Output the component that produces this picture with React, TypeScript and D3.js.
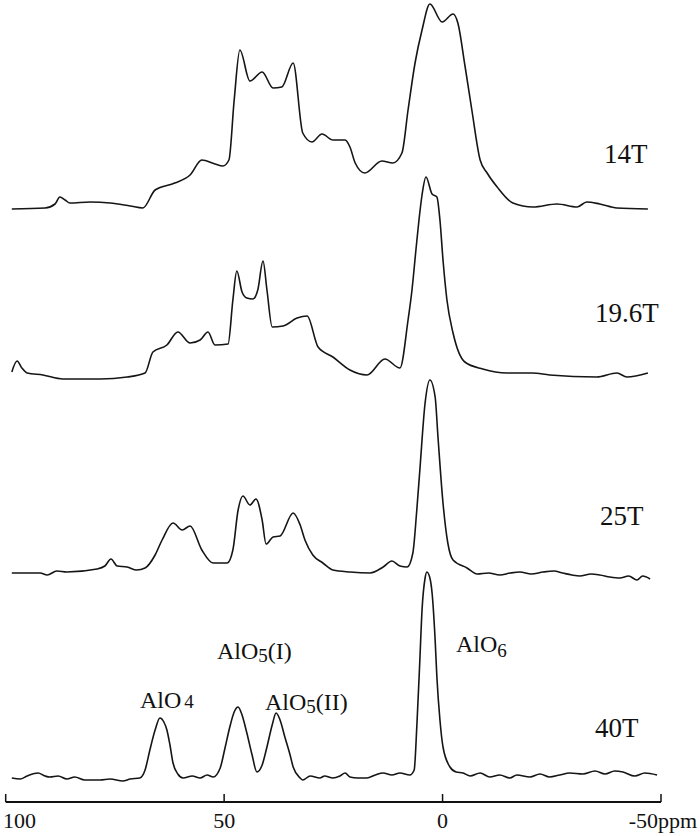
import React from "react";
import * as d3 from "d3";

// ---- data (ppm positions and intensities, arbitrary units) ----
const traceLabels = ["14T", "19.6T", "25T", "40T"];
const traceOffsets = [594, 427, 230, 24];

const ppm14 = [98.6, 91.0, 88.7, 87.6, 86.4, 85.3, 80.7, 76.1, 71.5, 68.6, 65.8, 61.3, 57.8, 55.1, 52.1, 50.3, 48.9, 47.7, 46.4, 44.1, 41.3, 38.8, 36.8, 34.2, 32.0, 29.9, 27.6, 25.1, 22.3, 21.2, 20.0, 17.8, 13.9, 11.4, 9.3, 7.9, 6.3, 4.7, 2.9, 0.1, -2.4, -3.5, -5.1, -6.7, -8.6, -10.2, -12.5, -16.1, -20.7, -26.2, -30.8, -33.0, -36.0, -39.9, -47.0];
const int14 = [-1, 0, 4, 11, 8, 5, 6, 5, 2, 0, 18, 25, 33, 48, 44, 42, 48, 108, 158, 127, 136, 120, 121, 145, 75, 66, 74, 68, 68, 61, 45, 35, 47, 45, 55, 98, 145, 178, 204, 186, 194, 185, 143, 98, 48, 35, 21, 5, 1, 4, 1, 6, 4, 0, -1];

const ppm196 = [98.6, 97.4, 96.3, 95.1, 91.5, 86.9, 78.4, 72.2, 68.1, 66.3, 63.1, 60.6, 57.8, 55.5, 53.7, 52.1, 49.1, 48.0, 47.1, 45.9, 44.8, 43.4, 42.3, 41.1, 40.2, 39.0, 36.5, 33.3, 31.0, 28.5, 25.1, 21.2, 17.3, 13.2, 9.75, 7.9, 7.0, 6.1, 5.4, 4.7, 3.8, 2.4, 1.3, 0.6, -0.1, -1.0, -2.4, -5.1, -9.2, -14.7, -20.5, -24.5, -35.3, -39.9, -42.2, -47.0];
const int196 = [3, 14, 7, 2, 0, -4, -4, -2, 2, 23, 30, 43, 32, 35, 43, 30, 31, 75, 104, 83, 77, 76, 85, 114, 85, 48, 49, 57, 59, 28, 18, 5, 0, 16, 7, 55, 85, 125, 155, 180, 198, 181, 178, 155, 115, 75, 42, 13, 6, 2, 2, 0, -2, 2, -2, 2];

const ppm25 = [98.6, 92.1, 90.5, 88.3, 86.0, 79.1, 77.3, 75.9, 74.5, 72.2, 70.0, 68.1, 65.8, 64.2, 61.7, 59.6, 57.8, 55.1, 52.5, 49.3, 48.0, 46.8, 45.7, 44.1, 42.7, 41.3, 40.4, 38.8, 37.2, 34.2, 32.6, 31.5, 29.7, 27.4, 25.1, 21.2, 16.6, 13.6, 11.6, 9.75, 8.1, 6.8, 5.9, 5.2, 4.0, 2.9, 1.7, 1.05, -0.1, -1.2, -2.4, -5.6, -7.9, -10.5, -13.1, -15.5, -17.7, -20.3, -23.0, -25.5, -27.5, -29.6, -31.4, -34.0, -36.0, -38.3, -40.6, -42.6, -44.5, -45.8, -47.5];
const int25 = [-1, -1, -3, 1, 0, 3, 6, 13, 6, 5, 2, 4, 17, 32, 49, 42, 46, 22, 9, 9, 22, 62, 76, 67, 73, 52, 28, 35, 36, 59, 47, 32, 17, 9, 2, 0, -1, 5, 11, 6, 5, 19, 62, 102, 169, 192, 175, 135, 69, 29, 12, 4, -2, -1, -3, -1, 0, -2, 0, 1, -1, -3, -4, -2, -3, -5, -6, -4, -8, -4, -7];

const ppm40 = [98.6, 96.7, 95.1, 92.6, 91.0, 89.9, 88.0, 86.0, 84.2, 81.9, 78.4, 76.1, 73.2, 71.5, 69.3, 68.1, 67.0, 65.8, 64.7, 63.8, 63.1, 62.4, 61.7, 60.6, 59.4, 57.3, 55.5, 53.9, 52.5, 50.9, 49.8, 48.7, 47.7, 46.8, 45.9, 44.8, 43.6, 42.5, 41.3, 40.2, 39.0, 38.1, 37.2, 36.1, 34.9, 34.2, 32.6, 32.0, 30.3, 28.1, 27.0, 25.1, 23.5, 22.3, 21.2, 19.4, 17.3, 15.4, 13.6, 11.6, 9.75, 7.5, 6.5, 5.9, 5.2, 4.7, 4.0, 3.6, 2.9, 2.4, 1.7, 1.3, 0.6, -0.1, -1.7, -3.1, -4.7, -6.3, -8.6, -10.8, -13.1, -15.4, -17.0, -20.0, -22.3, -24.5, -26.8, -29.1, -32.1, -34.9, -37.2, -39.4, -41.3, -44.0, -46.3, -49.1];
const int40 = [0, -1, 2, 5, 2, 1, 2, -1, 1, -2, -2, -1, -3, -1, 0, 8, 28, 48, 60, 56, 48, 33, 15, 4, 0, 2, 0, 3, 1, 10, 30, 51, 66, 71, 63, 45, 23, 6, 13, 31, 53, 65, 58, 41, 23, 11, 0, -2, 2, 0, 2, 0, 2, 5, 1, 0, 0, 3, 5, 3, 5, 3, 8, 51, 118, 168, 200, 206, 200, 185, 138, 101, 58, 31, 11, 6, 5, 2, 5, 1, 3, 0, 3, 1, 4, 1, 3, 5, 4, 7, 4, 7, 6, 2, 5, 3];

const tickValues = [100, 50, 0, -50];
const tickLabels = ["100", "50", "0", "-50ppm"];

const series = [
  { ppm: ppm14, val: int14 },
  { ppm: ppm196, val: int196 },
  { ppm: ppm25, val: int25 },
  { ppm: ppm40, val: int40 },
];

export default function App() {
  const W = 700;
  const H = 836;
  const axisY = 802;
  const x = d3.scaleLinear().domain([100, -50]).range([5.7, 661]);
  const y = d3.scaleLinear().domain([0, 800]).range([axisY, 2]);
  const serif = "'Liberation Serif', 'DejaVu Serif', serif";

  const labelPos = [
    { x: 604, y: 163 },
    { x: 595, y: 322 },
    { x: 600, y: 525 },
    { x: 595, y: 737 },
  ];

  return (
    <svg
      width={W}
      height={H}
      style={{ position: "absolute", left: 0, top: 0, background: "#fff" }}
      fontFamily={serif}
    >
      <rect x={0} y={0} width={W} height={H} fill="#fff" />
      {series.map((s, i) => {
        const pts = s.ppm.map((p, j) => [p, s.val[j] + traceOffsets[i]] as [number, number]);
        const line = d3
          .line<[number, number]>()
          .x((d) => x(d[0]))
          .y((d) => y(d[1]))
          .curve(d3.curveMonotoneX);
        return (
          <path
            key={i}
            d={line(pts) || ""}
            fill="none"
            stroke="#151515"
            strokeWidth={1.6}
            strokeLinejoin="round"
          />
        );
      })}
      {traceLabels.map((t, i) => (
        <text key={t} x={labelPos[i].x} y={labelPos[i].y} fontSize={27} fill="#111">
          {t}
        </text>
      ))}
      {/* peak assignments */}
      <text x={140} y={708} fontSize={24} fill="#111">
        AlO<tspan fontSize={19} dx={3}>4</tspan>
      </text>
      <text x={217} y={659} fontSize={24} fill="#111">
        AlO<tspan fontSize={19} dy={3}>5</tspan>
        <tspan dy={-3}>(I)</tspan>
      </text>
      <text x={265} y={710} fontSize={24} fill="#111">
        AlO<tspan fontSize={19} dy={3}>5</tspan>
        <tspan dy={-3}>(II)</tspan>
      </text>
      <text x={456} y={652} fontSize={24} fill="#111">
        AlO<tspan fontSize={19} dy={5}>6</tspan>
      </text>
      {/* axis */}
      <line x1={x(100)} x2={x(-50)} y1={axisY} y2={axisY} stroke="#111" strokeWidth={1.8} />
      {tickValues.map((v, i) => (
        <g key={v}>
          <line x1={x(v)} x2={x(v)} y1={axisY} y2={axisY - 8} stroke="#111" strokeWidth={1.5} />
          <text
            x={i === 0 ? 3 : x(v) + (i === 3 ? 2 : 0)}
            y={828}
            fontSize={22}
            textAnchor={i === 0 ? "start" : "middle"}
            fill="#111"
          >
            {tickLabels[i]}
          </text>
        </g>
      ))}
    </svg>
  );
}
